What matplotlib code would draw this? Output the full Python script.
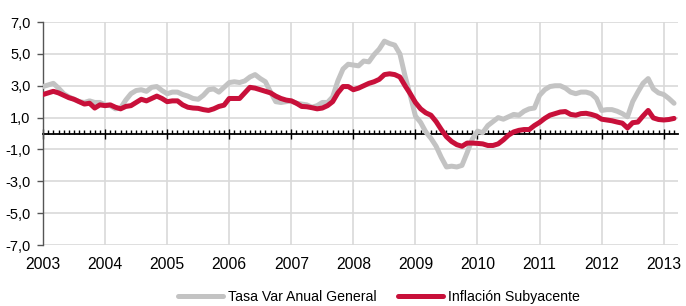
import numpy as np
import matplotlib
matplotlib.use('Agg')
import matplotlib.pyplot as plt
from matplotlib.ticker import MultipleLocator, FuncFormatter

# monthly data, Jan 2003 .. Mar 2013
start_year = 2003
general = [
    2.95, 3.05, 3.15, 2.85, 2.5, 2.3, 2.15, 2.0, 1.95, 2.05, 1.95, 1.95,   # 2003
    1.8, 1.75, 1.55, 1.6, 2.1, 2.5, 2.7, 2.75, 2.65, 2.9, 2.95, 2.7,       # 2004
    2.5, 2.6, 2.6, 2.45, 2.35, 2.2, 2.15, 2.4, 2.75, 2.8, 2.6, 2.9,        # 2005
    3.2, 3.25, 3.2, 3.3, 3.55, 3.7, 3.45, 3.25, 2.6, 2.0, 1.95, 2.0,       # 2006
    2.05, 1.9, 1.85, 1.8, 1.65, 1.75, 1.95, 1.95, 2.3, 3.3, 4.05, 4.35,    # 2007
    4.3, 4.25, 4.55, 4.5, 4.95, 5.3, 5.8, 5.65, 5.55, 5.0, 3.6, 2.4,       # 2008
    1.1, 0.7, 0.1, -0.3, -0.8, -1.5, -2.1, -2.05, -2.1, -2.0, -1.2, -0.35, # 2009
    0.15, 0.05, 0.5, 0.75, 1.0, 0.9, 1.05, 1.2, 1.15, 1.4, 1.55, 1.6,      # 2010
    2.4, 2.75, 2.95, 3.0, 3.0, 2.85, 2.6, 2.5, 2.6, 2.6, 2.5, 2.2,         # 2011
    1.45, 1.5, 1.5, 1.4, 1.25, 1.05, 2.0, 2.6, 3.15, 3.45, 2.8, 2.55,      # 2012
    2.45, 2.2, 1.9,                                                        # 2013
]
subyacente = [
    2.45, 2.55, 2.65, 2.55, 2.4, 2.25, 2.15, 2.0, 1.85, 1.9, 1.6, 1.8,
    1.75, 1.8, 1.65, 1.55, 1.7, 1.75, 1.95, 2.15, 2.05, 2.2, 2.35, 2.2,
    2.0, 2.05, 2.05, 1.8, 1.65, 1.6, 1.58, 1.5, 1.45, 1.55, 1.7, 1.78,
    2.2, 2.2, 2.2, 2.55, 2.9, 2.85, 2.75, 2.65, 2.55, 2.35, 2.2, 2.1,
    2.05, 1.9, 1.7, 1.68, 1.62, 1.55, 1.6, 1.75, 2.0, 2.55, 2.95, 2.95,
    2.75, 2.85, 3.0, 3.15, 3.25, 3.4, 3.7, 3.75, 3.7, 3.55, 3.0, 2.5,
    1.95, 1.55, 1.3, 1.15, 0.75, 0.25, -0.2, -0.5, -0.7, -0.8, -0.6, -0.6,
    -0.62, -0.65, -0.75, -0.75, -0.65, -0.4, -0.1, 0.1, 0.2, 0.25, 0.25, 0.5,
    0.7, 0.95, 1.15, 1.25, 1.35, 1.38, 1.2, 1.15, 1.25, 1.27, 1.2, 1.1,
    0.9, 0.85, 0.8, 0.72, 0.65, 0.35, 0.68, 0.72, 1.1, 1.45, 0.98, 0.88,
    0.85, 0.88, 0.95,
]
years = list(range(2003, 2014))
labels = ['Tasa Var Anual General', 'Inflación Subyacente']

plt.rcParams['font.family'] = ['Liberation Sans', 'DejaVu Sans']

x = start_year + np.arange(len(general)) / 12.0

fig = plt.figure(figsize=(6.86, 3.06), dpi=100)
ax = fig.add_axes([0.0627, 0.1993, 0.9256, 0.7287])

ax.plot(x, general, color='#C3C3C3', lw=3.6, solid_capstyle='round',
        solid_joinstyle='round', label=labels[0], zorder=3)
ax.plot(x, subyacente, color='#C8103A', lw=3.6, solid_capstyle='round',
        solid_joinstyle='round', label=labels[1], zorder=4)

ax.set_xlim(2003, 2013.23)
ax.set_ylim(-7, 7)
ax.set_yticks(np.arange(-7, 8, 2))
ax.yaxis.set_major_formatter(FuncFormatter(lambda v, p: ('%.1f' % v).replace('.', ',')))
ax.set_xticks(years)
ax.xaxis.set_minor_locator(MultipleLocator(1 / 12))
ax.xaxis.set_ticklabels([])

ax.grid(True, color='#D9D9D9', lw=1.2)
ax.set_axisbelow(True)

for s in ['top', 'right']:
    ax.spines[s].set_visible(False)
ax.spines['left'].set_color('#555555')
ax.spines['left'].set_linewidth(1.0)
ax.spines['bottom'].set_position(('data', 0))
ax.spines['bottom'].set_color('black')
ax.spines['bottom'].set_linewidth(1.3)
ax.spines['bottom'].set_zorder(2)

ax.tick_params(axis='y', length=4, width=1, color='#555555', labelsize=10.5, pad=5)
ax.tick_params(axis='x', which='major', direction='inout', length=7, width=1, color='black')
ax.tick_params(axis='x', which='minor', direction='in', length=3, width=1, color='black')

# year labels at the bottom of the plot
sec = ax.secondary_xaxis(0)
sec.set_xticks(years)
sec.set_xticklabels([str(y) for y in years])
sec.tick_params(length=0, labelsize=11.3, pad=8.5)
sec.spines['bottom'].set_visible(False)

fig.legend(loc='center', bbox_to_anchor=(0.552, 0.03), ncol=2, frameon=False,
           fontsize=10.2, handlelength=3.2, handletextpad=0.35, columnspacing=1.5,
           borderpad=0)

plt.savefig('out.png', dpi=100)
